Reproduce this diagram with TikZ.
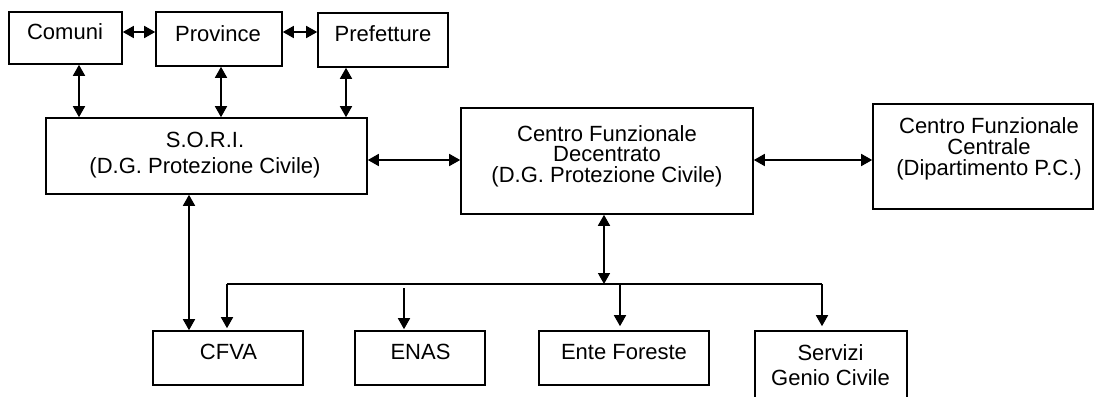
\documentclass[tikz,border=0pt]{standalone}
\usepackage{fontspec}
\setmainfont{Liberation Sans}
\usetikzlibrary{arrows.meta}
\begin{document}
\begin{tikzpicture}[x=1pt,y=-1pt,
  box/.style={draw, line width=1.6pt, inner sep=0pt},
  txt/.style={inner sep=0pt, align=center, font=\fontsize{22}{26}\selectfont},
  ln/.style={line width=1.6pt},
  arr/.style={line width=1.6pt, -{Triangle[length=11pt,width=12pt]}},
  darr/.style={line width=1.6pt, {Triangle[length=11pt,width=12pt]}-{Triangle[length=11pt,width=12pt]}}]
\useasboundingbox (0,0) rectangle (1094,396);
\fill[white] (0,0) rectangle (1094,396);
% boxes
\node[box, minimum width=113pt, minimum height=52pt] (comuni) at (65.5,38) {};
\node[box, minimum width=126pt, minimum height=54pt] (province) at (219,39) {};
\node[box, minimum width=130pt, minimum height=54pt] (prefetture) at (383,40) {};
\node[box, minimum width=321pt, minimum height=76pt] (sori) at (206.5,156) {};
\node[box, minimum width=292pt, minimum height=106pt] (cfd) at (607,161) {};
\node[box, minimum width=220pt, minimum height=105pt] (cfc) at (983,156.5) {};
\node[box, minimum width=150pt, minimum height=54pt] (cfva) at (228,358) {};
\node[box, minimum width=130pt, minimum height=54pt] (enas) at (420,358) {};
\node[box, minimum width=170pt, minimum height=54pt] (ente) at (624,358) {};
\node[box, minimum width=152pt, minimum height=84pt] (servizi) at (831,373) {};
% texts
\node[txt] (comuni-t) at (65,32) {Comuni};
\node[txt] (province-t) at (218,33.5) {Province};
\node[txt] (prefetture-t) at (383,34) {Prefetture};
\node[txt] (sori-t) at (205,155) {S.O.R.I.\\(D.G. Protezione Civile)};
\node[txt, font=\fontsize{22}{20.6}\selectfont] (cfd-t) at (607,156.3) {Centro Funzionale\\Decentrato\\(D.G. Protezione Civile)};
\node[txt, font=\fontsize{22}{20.8}\selectfont] (cfc-t) at (989,149) {Centro Funzionale\\Centrale\\(Dipartimento P.C.)};
\node[txt] (cfva-t) at (228.5,352) {CFVA};
\node[txt] (enas-t) at (420.5,352) {ENAS};
\node[txt] (ente-t) at (624,352.5) {Ente Foreste};
\node[txt, font=\fontsize{22}{25}\selectfont] (servizi-t) at (830.5,364.8) {Servizi\\Genio Civile};
% helper coordinates
\coordinate (h1) at (0,32);
\coordinate (h2) at (0,160);
\coordinate (v1) at (79,0);
\coordinate (v2) at (221,0);
\coordinate (v3) at (346,0);
\coordinate (v4) at (189,0);
\coordinate (v5) at (604,0);
\coordinate (busL) at (227,284);
\coordinate (busR) at (822,284);
\coordinate (busE) at (620,284);
\coordinate (enasS) at (404,288);
% connectors
\draw[darr] (comuni.east |- h1) -- (province.west |- h1);
\draw[darr] (province.east |- h1) -- (prefetture.west |- h1);
\draw[darr] (comuni.south -| v1) -- (sori.north -| v1);
\draw[darr] (province.south -| v2) -- (sori.north -| v2);
\draw[darr] (prefetture.south -| v3) -- (sori.north -| v3);
\draw[darr] (sori.east |- h2) -- (cfd.west |- h2);
\draw[darr] (cfd.east |- h2) -- (cfc.west |- h2);
\draw[darr] (sori.south -| v4) -- (cfva.north -| v4);
\draw[darr] (cfd.south -| v5) -- (busL -| v5);
\draw[ln] (busL) -- (busR);
\draw[arr, shorten >=2pt] (busL) -- (cfva.north -| busL);
\draw[arr, shorten >=1pt] (enasS) -- (enas.north -| enasS);
\draw[arr, shorten >=4pt] (busE) -- (ente.north -| busE);
\draw[arr, shorten >=4pt] (busR) -- (servizi.north -| busR);
\end{tikzpicture}
\end{document}
